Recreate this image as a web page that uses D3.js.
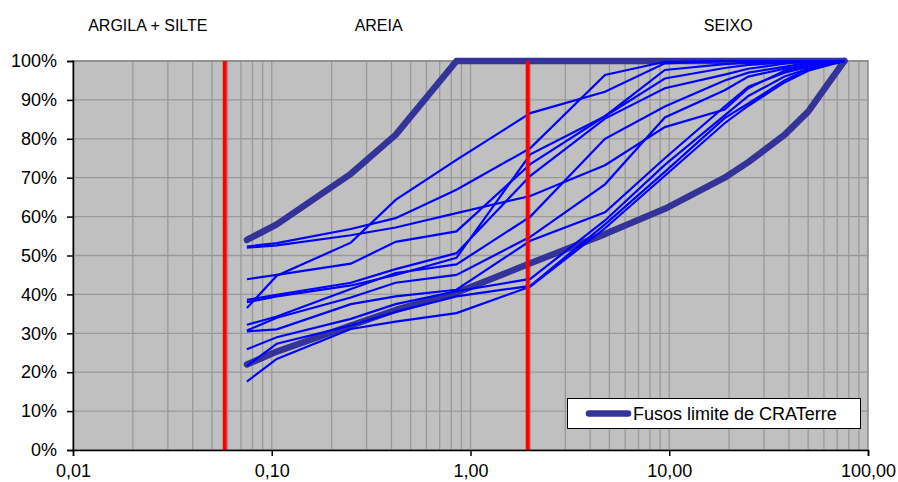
<!DOCTYPE html>
<html>
<head>
<meta charset="utf-8">
<script src="https://cdn.jsdelivr.net/npm/d3@7"></script>
<style>
  body { margin: 0; background: #fff; }
  svg text { font-family: "Liberation Sans", Arial, sans-serif; fill: #000; }
</style>
</head>
<body>
<div id="chart"></div>
<script>
// sieve openings (mm) and % passing
const sieves = [0.075, 0.106, 0.25, 0.42, 0.85, 2.0, 4.75, 9.5, 19, 25, 38, 50, 76];

const fusoInferior = [22, 25.3, 32, 36, 40.4, 48, 55.5, 62, 70, 74, 81, 87, 100];
const fusoSuperior = [54, 58, 71, 81, 100, 100, 100, 100, 100, 100, 100, 100, 100];

// amostras ensaiadas
const amostras = [
    [36.5, 44.8, 53.3, 64.3, 74.6, 86.6, 92.1, 99.4, 100, 100, 100, 100, 100],
    [52.3, 53.2, 56.8, 59.6, 66.9, 77.6, 96.4, 99.8, 100, 100, 100, 100, 100],
    [52.0, 52.6, 55.2, 57.2, 60.9, 65.3, 73.2, 83.0, 87.5, 93.0, 97.5, 99.0, 100],
    [43.9, 45.0, 47.9, 53.5, 56.2, 73.5, 85.8, 95.5, 98.2, 99.0, 99.6, 100, 100],
    [38.6, 39.9, 43.0, 46.5, 50.6, 70.5, 85.2, 93.0, 96.5, 98.0, 99.3, 100, 100],
    [38.0, 39.5, 42.3, 45.0, 49.4, 76.0, 85.8, 97.7, 99.2, 99.6, 100, 100, 100],
    [32.2, 34.3, 41.4, 45.5, 47.7, 60.0, 80.0, 88.3, 95.0, 97.0, 98.5, 99.5, 100],
    [30.7, 34.0, 39.2, 43.0, 45.0, 54.8, 68.3, 85.5, 92.5, 96.0, 98.0, 99.0, 100],
    [30.5, 31.0, 37.5, 39.5, 41.2, 53.8, 61.1, 75.0, 88.3, 93.4, 97.0, 98.5, 100],
    [25.9, 29.0, 33.7, 37.5, 40.8, 44.0, 59.0, 73.3, 86.0, 91.0, 96.0, 98.0, 100],
    [21.6, 27.3, 32.0, 35.5, 39.5, 42.2, 58.0, 71.5, 85.3, 89.1, 95.0, 98.0, 100],
    [17.6, 23.4, 31.1, 33.0, 35.2, 42.0, 57.0, 70.5, 84.0, 88.5, 94.5, 97.5, 100]
];

// limits between fractions
const limites = [0.058, 1.94];
const fracoes = [
    {label: 'ARGILA + SILTE', at: 0.0238},
    {label: 'AREIA', at: 0.345},
    {label: 'SEIXO', at: 19.8}
];

const xTicks = [0.01, 0.1, 1, 10, 100];
const yTicks = [0, 10, 20, 30, 40, 50, 60, 70, 80, 90, 100];

const W = 898, H = 482;
const plot = {left: 73, right: 868, top: 61, bottom: 450};

const svg = d3.select('#chart')
    .append('svg')
    .attr('width', W)
    .attr('height', H);

const x = d3.scaleLog()
    .domain([0.01, 100])
    .range([plot.left, plot.right]);

const y = d3.scaleLinear()
    .domain([0, 100])
    .range([plot.bottom, plot.top]);

// plot background
svg.append('rect')
    .attr('x', plot.left)
    .attr('y', plot.top)
    .attr('width', plot.right - plot.left)
    .attr('height', plot.bottom - plot.top)
    .attr('fill', '#c0c0c0');

// vertical gridlines (log minor)
const vGrid = [];
[0.01, 0.1, 1, 10].forEach(d => {
    for (let k = 1; k <= 9; k++) vGrid.push(d * k);
});
svg.append('g')
    .selectAll('line')
    .data(vGrid.filter(v => v > 0.01))
    .enter()
    .append('line')
    .attr('x1', d => x(d))
    .attr('x2', d => x(d))
    .attr('y1', plot.top)
    .attr('y2', plot.bottom)
    .attr('stroke', '#999')
    .attr('stroke-width', 1.3);

// horizontal gridlines
svg.append('g')
    .selectAll('line')
    .data(yTicks.filter(v => v > 0))
    .enter()
    .append('line')
    .attr('x1', plot.left)
    .attr('x2', plot.right)
    .attr('y1', d => y(d))
    .attr('y2', d => y(d))
    .attr('stroke', '#999')
    .attr('stroke-width', 1.3);

// plot border (top/right)
svg.append('rect')
    .attr('x', plot.left)
    .attr('y', plot.top)
    .attr('width', plot.right - plot.left)
    .attr('height', plot.bottom - plot.top)
    .attr('fill', 'none')
    .attr('stroke', '#888')
    .attr('stroke-width', 1.5);

const line = d3.line()
    .x((d, i) => x(sieves[i]))
    .y(d => y(d));

// CRATerre envelope
svg.append('g')
    .selectAll('path')
    .data([fusoInferior, fusoSuperior])
    .enter()
    .append('path')
    .attr('d', line)
    .attr('fill', 'none')
    .attr('stroke', '#333399')
    .attr('stroke-width', 6.5)
    .attr('stroke-linecap', 'round')
    .attr('stroke-linejoin', 'round');

// samples
svg.append('g')
    .selectAll('path')
    .data(amostras)
    .enter()
    .append('path')
    .attr('d', line)
    .attr('fill', 'none')
    .attr('stroke', '#0000ff')
    .attr('stroke-width', 2.2);

// fraction limits
svg.append('g')
    .selectAll('line')
    .data(limites)
    .enter()
    .append('line')
    .attr('x1', d => x(d))
    .attr('x2', d => x(d))
    .attr('y1', plot.top)
    .attr('y2', plot.bottom)
    .attr('stroke', '#ff0000')
    .attr('stroke-width', 4);

// axes
const xAxis = svg.append('g')
    .attr('transform', `translate(0,${plot.bottom})`)
    .call(d3.axisBottom(x)
        .tickValues(xTicks)
        .tickSize(6)
        .tickFormat(d => d3.format('.2f')(d).replace('.', ',')));
xAxis.select('.domain').attr('stroke', '#000').attr('stroke-width', 1.5);
xAxis.selectAll('.tick line').attr('stroke', '#000').attr('stroke-width', 1.5);
xAxis.selectAll('.tick text')
    .attr('y', 14)
    .attr('dy', '0.71em')
    .style('font-size', '18px')
    .style('font-family', '"Liberation Sans", Arial, sans-serif');

const yAxis = svg.append('g')
    .attr('transform', `translate(${plot.left},0)`)
    .call(d3.axisLeft(y)
        .tickValues(yTicks)
        .tickSize(6)
        .tickFormat(d => d + '%'));
yAxis.select('.domain').attr('stroke', '#000').attr('stroke-width', 1.5);
yAxis.selectAll('.tick line').attr('stroke', '#000').attr('stroke-width', 1.5);
yAxis.selectAll('.tick text')
    .attr('x', -16)
    .style('font-size', '18px')
    .style('font-family', '"Liberation Sans", Arial, sans-serif');

// fraction names
svg.append('g')
    .selectAll('text')
    .data(fracoes)
    .enter()
    .append('text')
    .attr('x', d => x(d.at))
    .attr('y', 31)
    .attr('text-anchor', 'middle')
    .style('font-size', '16px')
    .text(d => d.label);

// legend
const legend = svg.append('g');
legend.append('rect')
    .attr('x', 567.5)
    .attr('y', 398.5)
    .attr('width', 293)
    .attr('height', 30)
    .attr('fill', '#fff')
    .attr('stroke', '#000')
    .attr('stroke-width', 1);
legend.append('line')
    .attr('x1', 589)
    .attr('x2', 628)
    .attr('y1', 413.5)
    .attr('y2', 413.5)
    .attr('stroke', '#333399')
    .attr('stroke-width', 6.5)
    .attr('stroke-linecap', 'round');
legend.append('text')
    .attr('x', 633)
    .attr('y', 420)
    .style('font-size', '18px')
    .text('Fusos limite de CRATerre');
</script>
</body>
</html>
